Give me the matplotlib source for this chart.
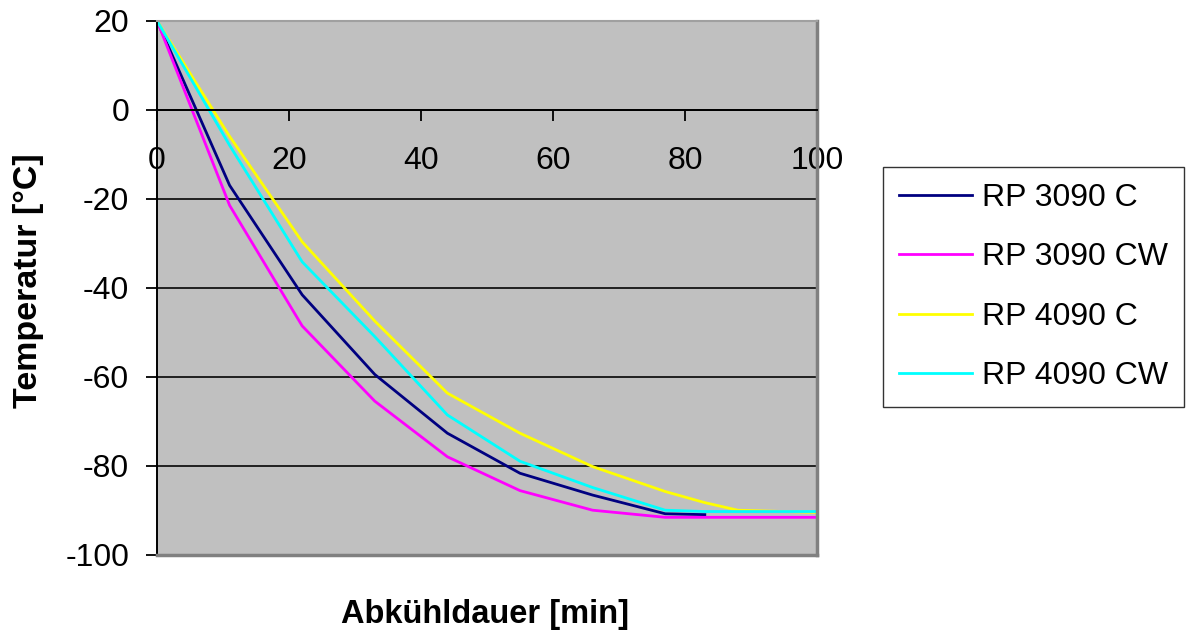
import numpy as np
import matplotlib
matplotlib.use("Agg")
import matplotlib.pyplot as plt

plt.rcParams['font.family'] = ['Liberation Sans', 'DejaVu Sans']
plt.rcParams['axes.unicode_minus'] = False

# Abkuehldauer in min
zeit = [0, 11, 22, 33, 44, 55, 66, 77, 83, 88, 100]

# Temperaturen in degC (nan = keine Messung)
rp3090_c  = [20, -17.0, -41.6, -59.5, -72.7, -81.7, -86.6, -90.8, -91.0, np.nan, np.nan]
rp3090_cw = [20, -21.5, -48.6, -65.5, -78.0, -85.6, -90.0, -91.6, -91.6, -91.6, -91.6]
rp4090_c  = [20, -6.0, -29.7, -47.5, -63.7, -72.7, -80.2, -85.8, -88.3, -90.0, -90.5]
rp4090_cw = [20, -8.0, -34.2, -51.0, -68.6, -79.0, -84.9, -90.0, -90.3, -90.3, -90.3]

serien = ["RP 3090 C", "RP 3090 CW", "RP 4090 C", "RP 4090 CW"]
farben = ["#000080", "#FF00FF", "#FFFF00", "#00FFFF"]

fig = plt.figure(figsize=(11.89, 6.32), dpi=100)
ax = fig.add_axes([157/1189, 1-554.7/632, 660/1189, 534/632])
ax.set_facecolor("#C0C0C0")

for werte, name, farbe in zip([rp3090_c, rp3090_cw, rp4090_c, rp4090_cw], serien, farben):
    ax.plot(zeit, werte, color=farbe, lw=2.0, label=name)

ax.set_xlim(0, 100)
ax.set_ylim(-100, 20)
ax.set_xticks(range(0, 101, 20))
ax.set_yticks(range(-100, 21, 20))

ax.set_axisbelow(True)
ax.yaxis.grid(True, color="#202020", lw=1.4)

# x-Achse liegt bei 0
ax.spines['bottom'].set_position(('data', 0))
ax.spines['bottom'].set_color("black")
ax.spines['bottom'].set_linewidth(1.4)
ax.spines['left'].set_color("black")
ax.spines['left'].set_linewidth(1.4)
ax.spines['top'].set_color("#A0A0A0")
ax.spines['top'].set_linewidth(1.5)
ax.spines['right'].set_color("#808080")
ax.spines['right'].set_linewidth(2.5)
ax.axhline(-100, color="#808080", lw=2.5, clip_on=False, zorder=3)

ax.tick_params(axis='y', direction='out', length=8, width=1.3, pad=12, labelsize=23)
ax.tick_params(axis='x', direction='out', length=8, width=1.3, pad=18, labelsize=23)

fig.text(28/1189, 1-281/632, "Temperatur [°C]", rotation=90, ha='center', va='center',
         fontsize=24.5, fontweight='bold')
fig.text(485/1189, 1-615/632, "Abkühldauer [min]", ha='center', va='center',
         fontsize=23.5, fontweight='bold')

leg = fig.legend(loc='upper left', bbox_to_anchor=(883/1189, 1-167/632), borderaxespad=0,
                 fontsize=23, frameon=True, fancybox=False, edgecolor="black",
                 handlelength=2.3, handletextpad=0.31, labelspacing=0.92,
                 borderpad=0.5)
leg.get_frame().set_linewidth(1.0)
for l in leg.get_lines():
    l.set_linewidth(2.0)

plt.savefig("out.png", dpi=100)
